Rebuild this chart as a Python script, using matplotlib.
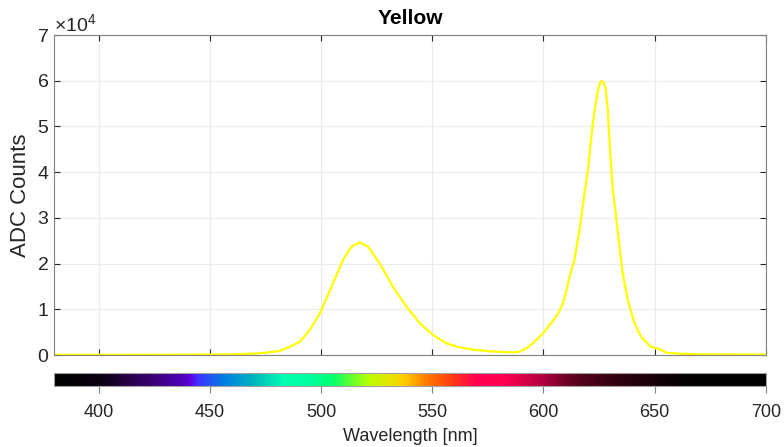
import numpy as np
import matplotlib.pyplot as plt
from matplotlib.colors import LinearSegmentedColormap
from matplotlib.ticker import ScalarFormatter

plt.rcParams['font.family'] = ['Liberation Sans', 'DejaVu Sans']
plt.rcParams['mathtext.fontset'] = 'custom'
plt.rcParams['mathtext.rm'] = 'Liberation Sans'

# spectrum
wavelength = [380, 400, 420, 440, 460, 470, 475, 481.5, 486, 490.5, 495, 499.5,
              505.4, 509.9, 513.7, 517.4, 521.2, 526.4, 532.4, 538.4, 544.4,
              550.4, 556.4, 562, 568, 575, 582, 587, 589.5, 592.3, 596, 599.8,
              603.5, 606.5, 608.5, 610, 611.7, 613.9, 616.2, 618, 620, 621.5,
              623, 624.5, 625.4, 626.2, 627.1, 627.9, 628.9, 630, 631.2, 632.4,
              633.8, 635.6, 637.9, 640.9, 643.9, 647.8, 650, 651.5, 653, 655.2,
              661, 670, 700]
counts = [50, 50, 60, 80, 150, 300, 500, 900, 1800, 2900, 5500, 9100,
          15700, 20800, 23700, 24650, 23700, 20000, 14900, 10600, 6940,
          4380, 2560, 1700, 1200, 850, 650, 600, 750, 1460, 2900, 4740,
          7000, 9000, 11000, 13500, 17000, 20800, 27400, 33900, 40500, 47800,
          53600, 58000, 59500, 60000, 59500, 58300, 53600, 44100, 36100, 31200,
          25200, 17900, 12000, 6940, 4000, 1970, 1500, 1450, 1100, 500,
          300, 150, 100]

x_ticks = [400, 450, 500, 550, 600, 650, 700]

# colour strip stops (nm, colour)
strip_nm = [380, 400, 423, 438, 441, 444, 456, 468, 483, 495, 505, 513, 522,
            537, 547, 558, 570, 583, 600, 613, 633, 655, 670, 700]
strip_col = ['#000000', '#0a0010', '#3a0070', '#5000c0', '#6000e0', '#4030ff',
             '#0080e0', '#00b0c0', '#00ffb0', '#00ffa0', '#00ff70', '#60ff30',
             '#c0ff00', '#ffd000', '#ff8000', '#ff4010', '#ff0050', '#ff0050',
             '#b00040', '#600020', '#300010', '#100005', '#000000', '#000000']

fig = plt.figure(figsize=(7.84, 4.47), dpi=100)
ax = fig.add_axes([0.0689, 0.2058, 0.9081, 0.7159])
cax = fig.add_axes([0.0689, 0.1365, 0.9081, 0.0291])

ax.plot(wavelength, counts, color='#ffff00', lw=1.6)
ax.set_xlim(380, 700)
ax.set_ylim(0, 70000)
ax.set_xticks(x_ticks)
ax.set_yticks(np.arange(0, 70001, 10000))
ax.tick_params(axis='x', labelbottom=False)
ax.tick_params(direction='in', length=4, colors='#262626', labelsize=14,
               top=True, right=True)
fmt = ScalarFormatter(useMathText=True)
fmt.set_powerlimits((0, 0))
ax.yaxis.set_major_formatter(fmt)
ax.yaxis.get_offset_text().set_fontsize(14)
ax.yaxis.get_offset_text().set_color('#262626')
ax.grid(color='#ebebeb', lw=0.8)
for s in ax.spines.values():
    s.set_color('#808080')
ax.set_ylabel('ADC Counts', fontsize=16, color='#262626', labelpad=4)
ax.set_title('Yellow', fontsize=15, fontweight='bold', pad=8)

pos = [(v - 380) / 320 for v in strip_nm]
cmap = LinearSegmentedColormap.from_list('spec', list(zip(pos, strip_col)))
cax.imshow(np.linspace(0, 1, 600)[None, :], aspect='auto', cmap=cmap,
           extent=[380, 700, 0, 1])
cax.set_xlim(380, 700)
cax.set_yticks([])
cax.set_xticks(x_ticks)
cax.tick_params(axis='x', direction='out', length=5, colors='#808080',
                labelcolor='#262626', labelsize=13, pad=8)
for s in cax.spines.values():
    s.set_color('#a0a0a0')
cax.set_xlabel('Wavelength [nm]', fontsize=13, color='#262626', labelpad=5)

fig.savefig('out.png', dpi=100)
